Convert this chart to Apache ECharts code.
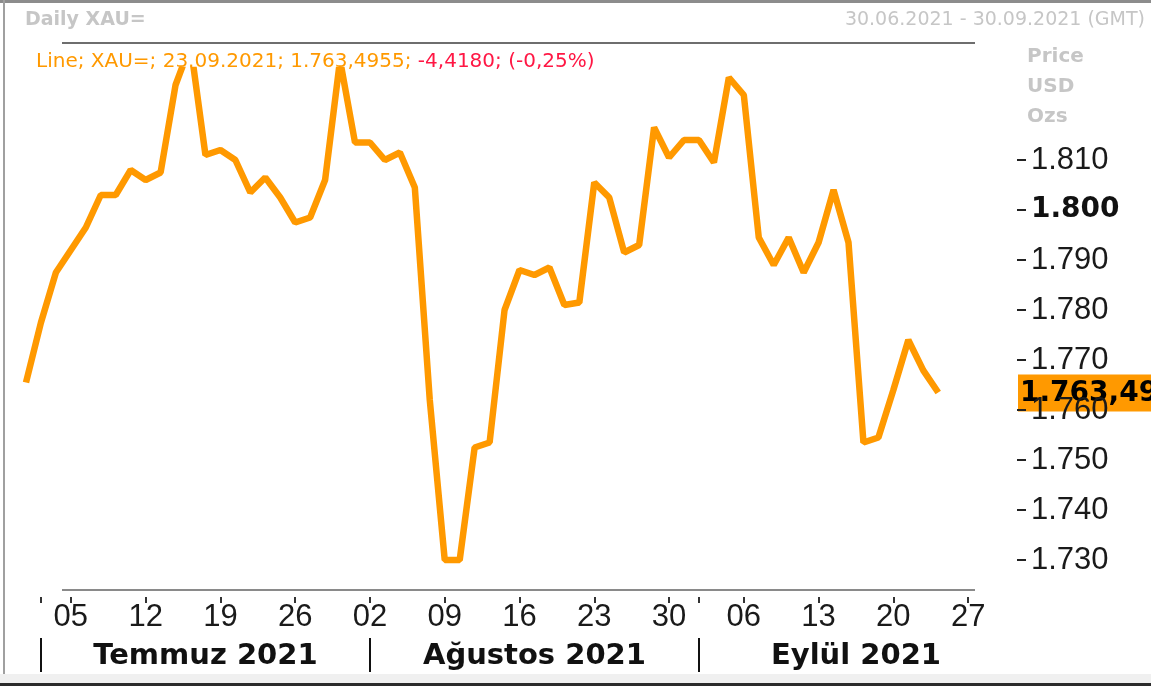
<!DOCTYPE html>
<html><head><meta charset="utf-8">
<script src="https://cdn.jsdelivr.net/npm/echarts@6/dist/echarts.min.js"></script>
<style>html,body{margin:0;padding:0;background:#fff}#c{width:1151px;height:686px}</style>
</head><body><div id="c"></div>
<script>
// ---- data ----
const dates = [
'2021-06-30',
'2021-07-01','2021-07-02','2021-07-05','2021-07-06','2021-07-07','2021-07-08','2021-07-09',
'2021-07-12','2021-07-13','2021-07-14','2021-07-15','2021-07-16',
'2021-07-19','2021-07-20','2021-07-21','2021-07-22','2021-07-23',
'2021-07-26','2021-07-27','2021-07-28','2021-07-29','2021-07-30',
'2021-08-02','2021-08-03','2021-08-04','2021-08-05','2021-08-06',
'2021-08-09','2021-08-10','2021-08-11','2021-08-12','2021-08-13',
'2021-08-16','2021-08-17','2021-08-18','2021-08-19','2021-08-20',
'2021-08-23','2021-08-24','2021-08-25','2021-08-26','2021-08-27',
'2021-08-30','2021-08-31',
'2021-09-01','2021-09-02','2021-09-03',
'2021-09-06','2021-09-07','2021-09-08','2021-09-09','2021-09-10',
'2021-09-13','2021-09-14','2021-09-15','2021-09-16','2021-09-17',
'2021-09-20','2021-09-21','2021-09-22','2021-09-23','2021-09-24',
'2021-09-27','2021-09-28','2021-09-29','2021-09-30'
];
const prices = [
1765.5,
1777.5,1787.5,1792,1796.5,1803,1803,1808,
1806,1807.5,1825,1833,1811,
1812,1810,1803.5,1806.5,1802.5,
1797.5,1798.5,1806,1830,1813.5,
1813.5,1810,1811.5,1804.5,1762,
1730,1730,1752.5,1753.5,1780,
1788,1787,1788.5,1781,1781.5,
1805.5,1802.5,1791.5,1793,1816.5,
1810.5,1814,
1814,1809.5,1826.5,
1823,1794.5,1789,1794.5,1787.5,
1793.5,1804,1793.5,1753.5,1754.5,
1764,1774,1767.9135,1763.4955,null,
null,null,null,null
];
const yTicks = [1730,1740,1750,1760,1770,1780,1790,1800,1810];
const boldTick = 1800;
const monthNames = {'07':'Temmuz 2021','08':'Ağustos 2021','09':'Eylül 2021'};
const titleText = 'Daily XAU=';
const rangeText = '30.06.2021 - 30.09.2021 (GMT)';
const unitLabels = ['Price','USD','Ozs'];
const seriesName = 'XAU=';
const chartType = 'Line';

// ---- helpers ----
const FONT = 'Liberation Sans';
const WIDE = 'DejaVu Sans';
function trNum(v, dec){
  const neg = v < 0; v = Math.abs(v);
  let s = v.toFixed(dec);
  let [i, d] = s.split('.');
  i = i.replace(/\B(?=(\d{3})+(?!\d))/g, '.');
  return (neg ? '-' : '') + i + (d ? ',' + d : '');
}
const isMonday = d => new Date(d + 'T00:00:00Z').getUTCDay() === 1;
const monthStartIdx = [];
dates.forEach((d, i) => { if (i > 0 && d.slice(5,7) !== dates[i-1].slice(5,7)) monthStartIdx.push(i); });
let lastIdx = -1;
prices.forEach((p, i) => { if (p != null) lastIdx = i; });
const lastVal = prices[lastIdx], prevVal = prices[lastIdx - 1];
const chg = lastVal - prevVal, pct = chg / prevVal * 100;
const ld = dates[lastIdx];
const lastDateStr = ld.slice(8,10) + '.' + ld.slice(5,7) + '.' + ld.slice(0,4);

const chart = echarts.init(document.getElementById('c'));
chart.setOption({
  animation: false,
  grid: { left: 26, right: 138, top: 70, bottom: 76 },
  xAxis: [{
    type: 'category', data: dates, boundaryGap: false, offset: -13,
    axisLine: { show: false },
    axisTick: { show: true, length: 6, interval: (i) => isMonday(dates[i]) || monthStartIdx.includes(i),
      lineStyle: { color: '#333', width: 2 } },
    axisLabel: { interval: (i) => isMonday(dates[i]), formatter: v => v.slice(8,10),
      fontSize: 31, fontFamily: FONT, color: '#1a1a1a', margin: 5 },
    splitLine: { show: false }
  }],
  yAxis: [{
    type: 'value', position: 'right', min: 1720, max: 1828, offset: 4,
    axisLine: { show: false },
    axisTick: { show: true, length: 9, customValues: yTicks, lineStyle: { color: '#222', width: 2 } },
    axisLabel: { customValues: yTicks, margin: 14, fontSize: 31, fontFamily: FONT, color: '#1a1a1a',
      formatter: v => v === boldTick ? '{b|' + trNum(v, 0) + '}' : trNum(v, 0),
      rich: { b: { fontWeight: 'bold', fontSize: 28, fontFamily: WIDE, color: '#111' } } },
    splitLine: { show: false }
  }],
  series: [{
    type: 'line', data: prices, showSymbol: false, symbol: 'none', clip: true,
    lineStyle: { color: '#ff9900', width: 6.5 }
  }]
});

// decorations positioned from the axes
const px = i => chart.convertToPixel({ xAxisIndex: 0 }, dates[i]);
const lastY = chart.convertToPixel({ yAxisIndex: 0 }, lastVal);
const g = [
  { type: 'rect', shape: { x: 0, y: 0, width: 1151, height: 3 }, style: { fill: '#8c8c8c' } },
  { type: 'rect', shape: { x: 3, y: 0, width: 2, height: 686 }, style: { fill: '#a0a0a0' } },
  { type: 'rect', shape: { x: 0, y: 674, width: 1151, height: 9 }, style: { fill: '#f0f0f0' } },
  { type: 'rect', shape: { x: 0, y: 683, width: 1151, height: 3 }, style: { fill: '#2b2b2b' } },
  { type: 'line', shape: { x1: 62, y1: 43, x2: 975, y2: 43 }, style: { stroke: '#6e6e6e', lineWidth: 2 } },
  { type: 'line', shape: { x1: 62, y1: 590, x2: 975, y2: 590 }, style: { stroke: '#8a8a8a', lineWidth: 2 } },
  { type: 'text', x: 25, y: 20, style: { text: titleText, font: 'bold 19px ' + WIDE, fill: '#c6c6c6', verticalAlign: 'middle' } },
  { type: 'text', x: 1145, y: 20, style: { text: rangeText, font: '19px ' + WIDE, fill: '#c6c6c6', align: 'right', verticalAlign: 'middle' } },
  { type: 'text', x: 36, y: 62, style: {
      text: '{o|' + chartType + '; ' + seriesName + '; ' + lastDateStr + '; ' + trNum(lastVal, 4) + '; }{r|' + trNum(chg, 4) + '; (' + trNum(pct, 2) + '%)}',
      verticalAlign: 'middle',
      rich: { o: { fill: '#ff9900', fontSize: 20, fontFamily: WIDE }, r: { fill: '#ff1744', fontSize: 20, fontFamily: WIDE } } } }
];
unitLabels.forEach((t, k) => g.push({ type: 'text', x: 1027, y: 57 + 30 * k,
  style: { text: t, font: 'bold 20px ' + WIDE, fill: '#c6c6c6', verticalAlign: 'middle' } }));
// month separators and names
monthStartIdx.forEach((si, k) => {
  const x0 = px(si);
  const nextIdx = k + 1 < monthStartIdx.length ? monthStartIdx[k + 1] : dates.length - 1;
  const x1 = px(nextIdx);
  g.push({ type: 'rect', shape: { x: Math.round(x0) - 1, y: 638, width: 2, height: 34 }, style: { fill: '#111' } });
  g.push({ type: 'text', x: (x0 + x1) / 2, y: 656, style: { text: monthNames[dates[si].slice(5,7)],
    font: 'bold 29px ' + WIDE, fill: '#111', align: 'center', verticalAlign: 'middle' } });
});
// last price box
g.push({ type: 'group', z: 100, children: [
  { type: 'rect', shape: { x: 1018, y: lastY - 18, width: 140, height: 37 }, style: { fill: '#ff9900' } },
  { type: 'text', x: 1020, y: lastY + 1, style: { text: trNum(Math.floor(lastVal * 100) / 100, 2),
    font: 'bold 28px ' + WIDE, fill: '#000', verticalAlign: 'middle' } }
] });
chart.setOption({ graphic: g });
</script>
</body></html>
